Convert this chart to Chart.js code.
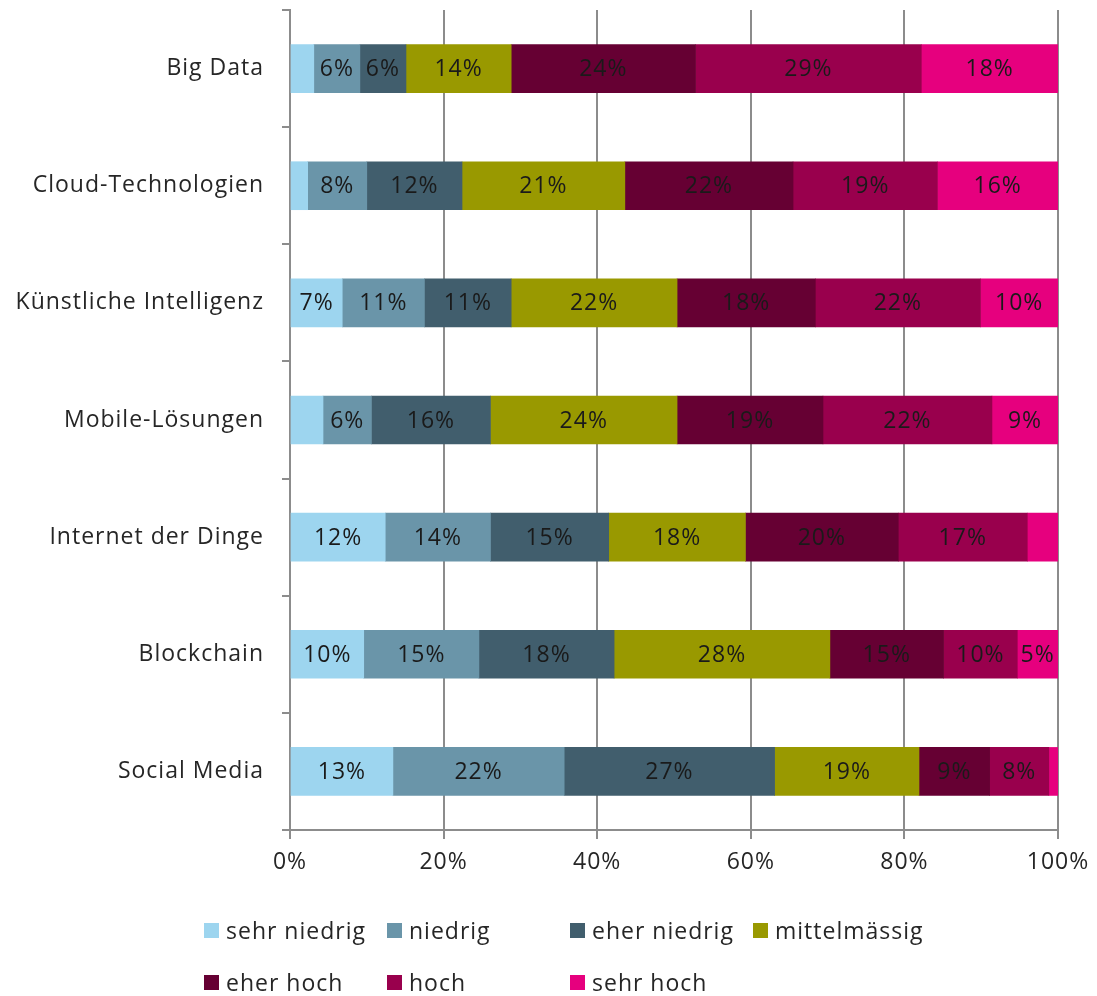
<!DOCTYPE html>
<html>
<head>
<meta charset="utf-8">
<script src="https://cdn.jsdelivr.net/npm/chart.js@4"></script>
<style>
  body { margin: 0; background: #fff; }
  #wrap { position: relative; width: 1097px; height: 996px; }
  #legend { position: absolute; left: 0; top: 0; font-family: "Open Sans", sans-serif; font-size: 23px; letter-spacing: 1px; color: #262626; }
  .item { position: absolute; display: flex; align-items: center; height: 30px; white-space: nowrap; }
  .box { width: 15px; height: 15px; margin-right: 7px; }
</style>
</head>
<body>
<div id="wrap">
  <canvas id="chart" width="1097" height="996"></canvas>
  <div id="legend"></div>
</div>
<script>
const categories = ["Big Data", "Cloud-Technologien", "Künstliche Intelligenz", "Mobile-Lösungen", "Internet der Dinge", "Blockchain", "Social Media"];
const seriesNames = ["sehr niedrig", "niedrig", "eher niedrig", "mittelmässig", "eher hoch", "hoch", "sehr hoch"];
const colors = ["#9dd5ef", "#6a95a9", "#415e6d", "#999900", "#660033", "#99004d", "#e6007e"];

const sehrNiedrig = [3.1, 2.3, 6.8, 4.3, 12.4, 9.6, 13.4];
const niedrig = [6.0, 7.7, 10.7, 6.3, 13.7, 15.0, 22.3];
const eherNiedrig = [6.0, 12.4, 11.3, 15.5, 15.4, 17.6, 27.4];
const mittelmaessig = [13.7, 21.2, 21.6, 24.3, 17.8, 28.1, 18.8];
const eherHoch = [24.0, 21.9, 18.0, 19.0, 19.9, 14.8, 9.2];
const hoch = [29.4, 18.8, 21.5, 22.0, 16.8, 9.6, 7.7];
const sehrHoch = [17.8, 15.7, 10.1, 8.6, 4.0, 5.3, 1.2];

const xTicks = [0, 20, 40, 60, 80, 100];

const allSeries = [sehrNiedrig, niedrig, eherNiedrig, mittelmaessig, eherHoch, hoch, sehrHoch];
const gridGray = "#8c8c8c";
const font = "'Open Sans', sans-serif";

// a bit of letter spacing, the original font runs wide
const spacing = {
    id: "spacing",
    beforeUpdate(chart) { chart.ctx.letterSpacing = "1px"; },
    beforeDraw(chart) { chart.ctx.letterSpacing = "1px"; }
};

// labels in the middle of each segment
const segmentLabels = {
    id: "segmentLabels",
    afterDatasetsDraw(chart) {
        const ctx = chart.ctx;
        ctx.save();
        ctx.font = "23px " + font;
        ctx.fillStyle = "#1a1a1a";
        ctx.textAlign = "center";
        ctx.textBaseline = "middle";
        chart.data.datasets.forEach((ds, i) => {
            chart.getDatasetMeta(i).data.forEach((bar, j) => {
                const v = Math.round(ds.data[j]);
                if (v < 5) return;
                const cx = (bar.x + bar.base) / 2;
                ctx.fillText(v + "%", cx, bar.y + 1);
            });
        });
        ctx.restore();
    }
};

const chart = new Chart(document.getElementById("chart"), {
    type: "bar",
    data: {
        labels: categories,
        datasets: seriesNames.map((name, i) => ({
            label: name,
            data: allSeries[i],
            backgroundColor: colors[i],
            barThickness: 48
        }))
    },
    options: {
        indexAxis: "y",
        responsive: false,
        animation: false,
        layout: { padding: { top: 10, right: 39, left: 0, bottom: 0 } },
        plugins: {
            legend: { display: false },
            tooltip: { enabled: false }
        },
        scales: {
            x: {
                stacked: true,
                min: 0,
                max: 100,
                afterBuildTicks: (scale) => { scale.ticks = xTicks.map(v => ({ value: v })); },
                ticks: {
                    callback: (v) => v + "%",
                    color: "#262626",
                    font: { family: font, size: 23 },
                    padding: 10,
                    maxRotation: 0
                },
                grid: { color: gridGray, lineWidth: 2, tickLength: 9 },
                border: { color: gridGray, width: 2 },
                afterFit: (scale) => {
                    scale.height = 166;
                    scale.paddingLeft = 0;
                    scale.paddingRight = 0;
                }
            },
            y: {
                stacked: true,
                ticks: {
                    color: "#262626",
                    font: { family: font, size: 23 },
                    padding: 18
                },
                grid: { drawOnChartArea: false, color: gridGray, lineWidth: 2, tickLength: 8, offset: true },
                border: { color: gridGray, width: 2 },
                afterFit: (scale) => {
                    scale.width = 290;
                    scale.paddingTop = 0;
                    scale.paddingBottom = 0;
                }
            }
        }
    },
    plugins: [spacing, segmentLabels]
});

// legend in two rows with fixed columns
const legend = document.getElementById("legend");
const colX = [204, 387, 570, 753];
const rowY = [915, 967];
seriesNames.forEach((name, i) => {
    const item = document.createElement("div");
    item.className = "item";
    item.style.left = colX[i % 4] + "px";
    item.style.top = rowY[Math.floor(i / 4)] + "px";
    item.innerHTML = '<span class="box" style="background:' + colors[i] + '"></span>' + name;
    legend.appendChild(item);
});
</script>
</body>
</html>
